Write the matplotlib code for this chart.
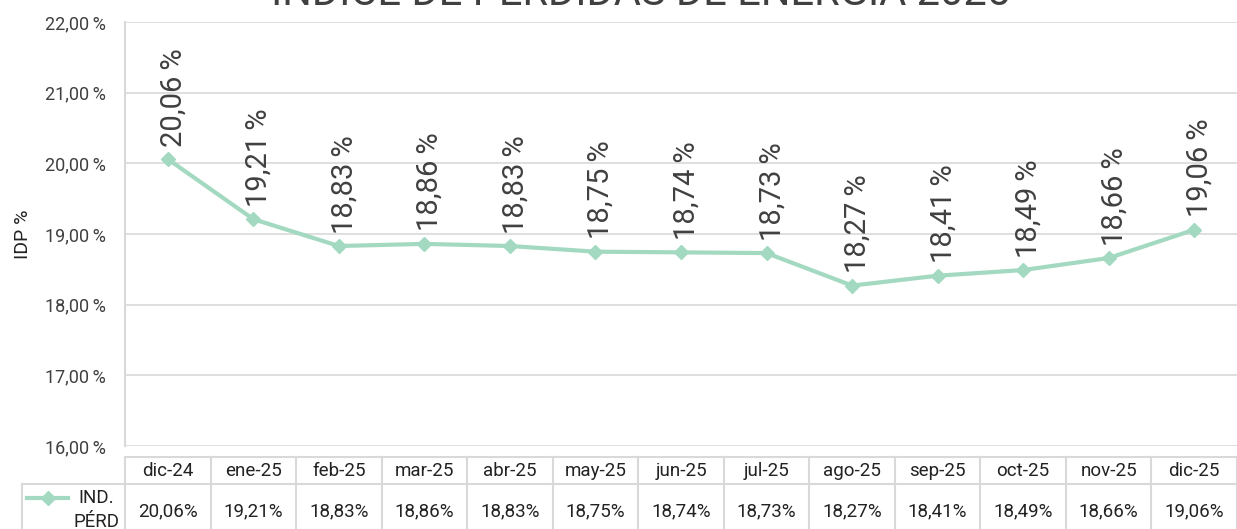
import numpy as np
import matplotlib.pyplot as plt
from matplotlib.lines import Line2D

plt.rcParams['font.family'] = ['Roboto', 'DejaVu Sans']

meses = ['dic-24', 'ene-25', 'feb-25', 'mar-25', 'abr-25', 'may-25', 'jun-25',
         'jul-25', 'ago-25', 'sep-25', 'oct-25', 'nov-25', 'dic-25']
idp = [20.06, 19.21, 18.83, 18.86, 18.83, 18.75, 18.74, 18.73, 18.27, 18.41, 18.49, 18.66, 19.06]
yticks = [16, 17, 18, 19, 20, 21, 22]

W, H = 1237, 529
verde = '#a3d9c0'
gris_txt = '#404040'
gris_lin = '#d9d9d9'

def fmt(v, sep=''):
    return ('%.2f' % v).replace('.', ',') + sep + '%'

fig = plt.figure(figsize=(W / 100, H / 100), dpi=100)
x0, x1, yt, yb = 125, 1237, 22, 446
ax = fig.add_axes([x0 / W, 1 - yb / H, (x1 - x0) / W, (yb - yt) / H])

x = np.arange(len(meses))
ax.plot(x, idp, color=verde, lw=3, marker='D', ms=7, zorder=3)
ax.set_xlim(-0.5, len(meses) - 0.5)
ax.set_ylim(16, 22)
ax.set_yticks(yticks)
ax.set_yticklabels(['%d,00\u2009%%' % t for t in yticks], fontsize=13, color=gris_txt)
ax.set_xticks([])
ax.tick_params(axis='y', length=0, pad=14)
ax.grid(axis='y', color=gris_lin, lw=1.2)
ax.set_axisbelow(True)
for s in ['top', 'right', 'bottom']:
    ax.spines[s].set_visible(False)
ax.spines['left'].set_color(gris_lin)
ax.spines['left'].set_linewidth(1.5)
ax.set_ylabel('IDP %', fontsize=14, color='#222222', labelpad=9)

for xi, v in zip(x, idp):
    ax.annotate(fmt(v, '\u2009'), (xi, v), xytext=(4, 9), textcoords='offset points',
                rotation=90, ha='center', va='bottom', fontsize=21, color=gris_txt)

fig.text(641 / W, 1 - 5 / H, 'ÍNDICE DE PÉRDIDAS DE ENERGÍA 2025', ha='center',
         va='baseline', fontsize=30, color=gris_txt)

# tabla de datos
def fx(px):
    return px / W

def fy(py):
    return 1 - py / H

step = (x1 - x0) / len(meses)
t_top, t_mid = 457, 484
fig.add_artist(Line2D([fx(x0), fx(x1)], [fy(t_top), fy(t_top)], color=gris_lin, lw=1.5))
fig.add_artist(Line2D([fx(22), fx(x1)], [fy(t_mid), fy(t_mid)], color=gris_lin, lw=1.5))
fig.add_artist(Line2D([fx(22), fx(22)], [fy(t_mid), fy(H)], color=gris_lin, lw=1.5))
for i in range(len(meses) + 1):
    xx = x0 + i * step
    fig.add_artist(Line2D([fx(xx), fx(xx)], [fy(t_top), fy(H)], color=gris_lin, lw=1.5))
for i, (m, v) in enumerate(zip(meses, idp)):
    xc = x0 + (i + 0.5) * step
    fig.text(fx(xc), fy(471), m, ha='center', va='center', fontsize=13.5, color='#222222')
    fig.text(fx(xc), fy(511), fmt(v), ha='center', va='center', fontsize=13.5, color='#222222')

fig.add_artist(Line2D([fx(27), fx(68)], [fy(498), fy(498)], color=verde, lw=3))
fig.add_artist(Line2D([fx(48)], [fy(498)], color=verde, marker='D', ms=7))
fig.text(fx(96), fy(498), 'IND.', ha='center', va='center', fontsize=13.5, color='#222222')
fig.text(fx(96), fy(522), 'PÉRD', ha='center', va='center', fontsize=13.5, color='#222222')

fig.savefig('out.png', dpi=100)
